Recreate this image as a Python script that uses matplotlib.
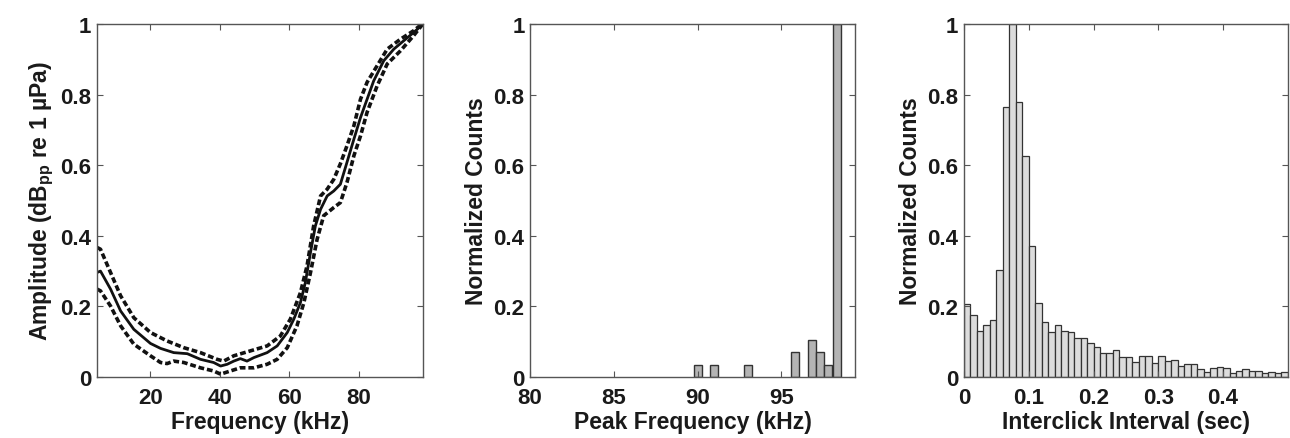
import numpy as np
import matplotlib.pyplot as plt
from matplotlib.ticker import FuncFormatter

plt.rcParams['font.family'] = ['Liberation Sans', 'DejaVu Sans']
plt.rcParams['font.weight'] = 'bold'
plt.rcParams['axes.labelweight'] = 'bold'
plt.rcParams['mathtext.fontset'] = 'custom'
plt.rcParams['mathtext.rm'] = 'Liberation Sans:bold'
plt.rcParams['mathtext.it'] = 'Liberation Sans:bold'
plt.rcParams['mathtext.default'] = 'rm'

# panel 1: spectrum (mean and bounds)
mean_f = [4.6, 5.6, 8.5, 11.4, 15.2, 20.0, 22.9, 26.7, 30.6, 34.4, 38.2, 40.2, 42.1,
          44.0, 45.9, 47.8, 49.8, 53.6, 56.5, 59.4, 61.3, 63.2, 64.6, 66.1, 67.5,
          69.0, 70.9, 72.8, 74.7, 76.6, 78.6, 80.5, 82.4, 84.3, 87.2, 90.1, 93.0,
          95.8, 98.2]
mean_a = [0.296, 0.30, 0.249, 0.187, 0.135, 0.095, 0.081, 0.069, 0.066, 0.05, 0.041,
          0.031, 0.036, 0.045, 0.052, 0.045, 0.055, 0.069, 0.088, 0.126, 0.164, 0.211,
          0.267, 0.353, 0.428, 0.475, 0.513, 0.527, 0.546, 0.608, 0.674, 0.735, 0.787,
          0.839, 0.896, 0.929, 0.953, 0.976, 0.997]

upper_f = [4.6, 5.6, 8.5, 11.4, 15.2, 20.0, 24.8, 29.6, 34.4, 39.2, 41.1, 44.0, 48.8,
           53.6, 57.4, 60.3, 63.2, 65.1, 67.0, 69.0, 70.9, 72.8, 74.7, 76.6, 78.6,
           80.5, 82.4, 85.3, 88.2, 92.0, 95.8, 98.2]
upper_a = [0.367, 0.362, 0.296, 0.23, 0.168, 0.126, 0.102, 0.083, 0.069, 0.05, 0.045,
           0.06, 0.074, 0.088, 0.116, 0.164, 0.239, 0.315, 0.428, 0.513, 0.532, 0.56,
           0.604, 0.655, 0.712, 0.787, 0.835, 0.882, 0.929, 0.957, 0.981, 1.0]

lower_f = [4.6, 5.6, 8.5, 11.4, 15.2, 20.0, 22.9, 24.8, 26.7, 29.6, 34.4, 38.2, 40.2,
           43.0, 45.9, 49.8, 53.6, 56.5, 59.4, 62.2, 64.2, 66.1, 68.0, 69.9, 72.8,
           74.7, 76.6, 78.6, 80.5, 82.4, 85.3, 88.2, 92.0, 95.8, 98.2]
lower_a = [0.249, 0.244, 0.201, 0.145, 0.093, 0.06, 0.041, 0.038, 0.045, 0.041, 0.026,
           0.017, 0.008, 0.017, 0.026, 0.026, 0.036, 0.05, 0.083, 0.145, 0.211, 0.296,
           0.39, 0.457, 0.48, 0.494, 0.551, 0.627, 0.683, 0.75, 0.825, 0.887, 0.924,
           0.967, 0.997]

# panel 2: peak frequency histogram
peak_khz = [90.0, 91.0, 93.0, 95.8, 96.8, 97.3, 97.8, 98.3]
peak_counts = [0.035, 0.035, 0.035, 0.07, 0.105, 0.07, 0.035, 1.0]

# panel 3: interclick interval histogram (0.01 s bins)
ici_counts = [0.206, 0.177, 0.131, 0.148, 0.161, 0.304, 0.764, 1.0, 0.78, 0.625,
              0.37, 0.21, 0.157, 0.127, 0.147, 0.131, 0.128, 0.11, 0.11, 0.095,
              0.086, 0.067, 0.067, 0.077, 0.058, 0.058, 0.043, 0.06, 0.06, 0.039,
              0.06, 0.044, 0.048, 0.03, 0.037, 0.037, 0.023, 0.015, 0.025, 0.029,
              0.026, 0.011, 0.018, 0.023, 0.016, 0.016, 0.01, 0.013, 0.012, 0.015]
ici_edges = np.arange(len(ici_counts)) * 0.01

txt = '#1a1a1a'
fig = plt.figure(figsize=(12.9, 4.39), dpi=100)
ax1 = fig.add_axes([0.0752, 0.139, 0.2527, 0.804])
ax2 = fig.add_axes([0.4109, 0.139, 0.252, 0.804])
ax3 = fig.add_axes([0.7473, 0.139, 0.251, 0.804])

ax1.plot(mean_f, mean_a, color='#111111', lw=2)
ax1.plot(upper_f, upper_a, color='#111111', lw=2.6, ls=(0, (1.6, 0.8)))
ax1.plot(lower_f, lower_a, color='#111111', lw=2.6, ls=(0, (1.6, 0.8)))
ax1.set_xlim(4.6, 98.5)
ax1.set_xticks([20, 40, 60, 80])
ax1.set_xlabel('Frequency (kHz)', labelpad=2)
ax1.set_ylabel(r'Amplitude (dB$_{pp}$ re 1 µPa)', labelpad=3)

ax2.bar(peak_khz, peak_counts, width=0.48, color='#b4b4b4', edgecolor='#333333', lw=1)
ax2.set_xlim(80, 99.4)
ax2.set_xticks([80, 85, 90, 95])
ax2.set_xlabel('Peak Frequency (kHz)', labelpad=2)
ax2.set_ylabel('Normalized Counts', labelpad=4)

ax3.bar(ici_edges, ici_counts, width=0.01, align='edge', color='#dcdcdc',
        edgecolor='#333333', lw=0.9)
ax3.set_xlim(0, 0.5)
ax3.set_xticks([0, 0.1, 0.2, 0.3, 0.4])
ax3.xaxis.set_major_formatter(FuncFormatter(lambda v, p: '0' if v == 0 else f'{v:g}'))
ax3.set_xlabel('Interclick Interval (sec)', labelpad=2)
ax3.set_ylabel('Normalized Counts', labelpad=4)

for ax in (ax1, ax2, ax3):
    ax.set_ylim(0, 1)
    ax.set_yticks([0, 0.2, 0.4, 0.6, 0.8, 1])
    ax.yaxis.set_major_formatter(FuncFormatter(lambda v, p: f'{v:g}'))
    ax.tick_params(direction='in', length=4, width=0.8, top=True, right=True,
                   labelsize=16, colors='#555555', labelcolor=txt)
    ax.tick_params(axis='x', pad=7)
    ax.tick_params(axis='y', pad=4)
    ax.xaxis.label.set_size(16.5)
    ax.yaxis.label.set_size(16.5)
    ax.xaxis.label.set_color(txt)
    ax.yaxis.label.set_color(txt)
    for s in ax.spines.values():
        s.set_color('#555555')
        s.set_linewidth(1)

fig.savefig('out.png', dpi=100)
